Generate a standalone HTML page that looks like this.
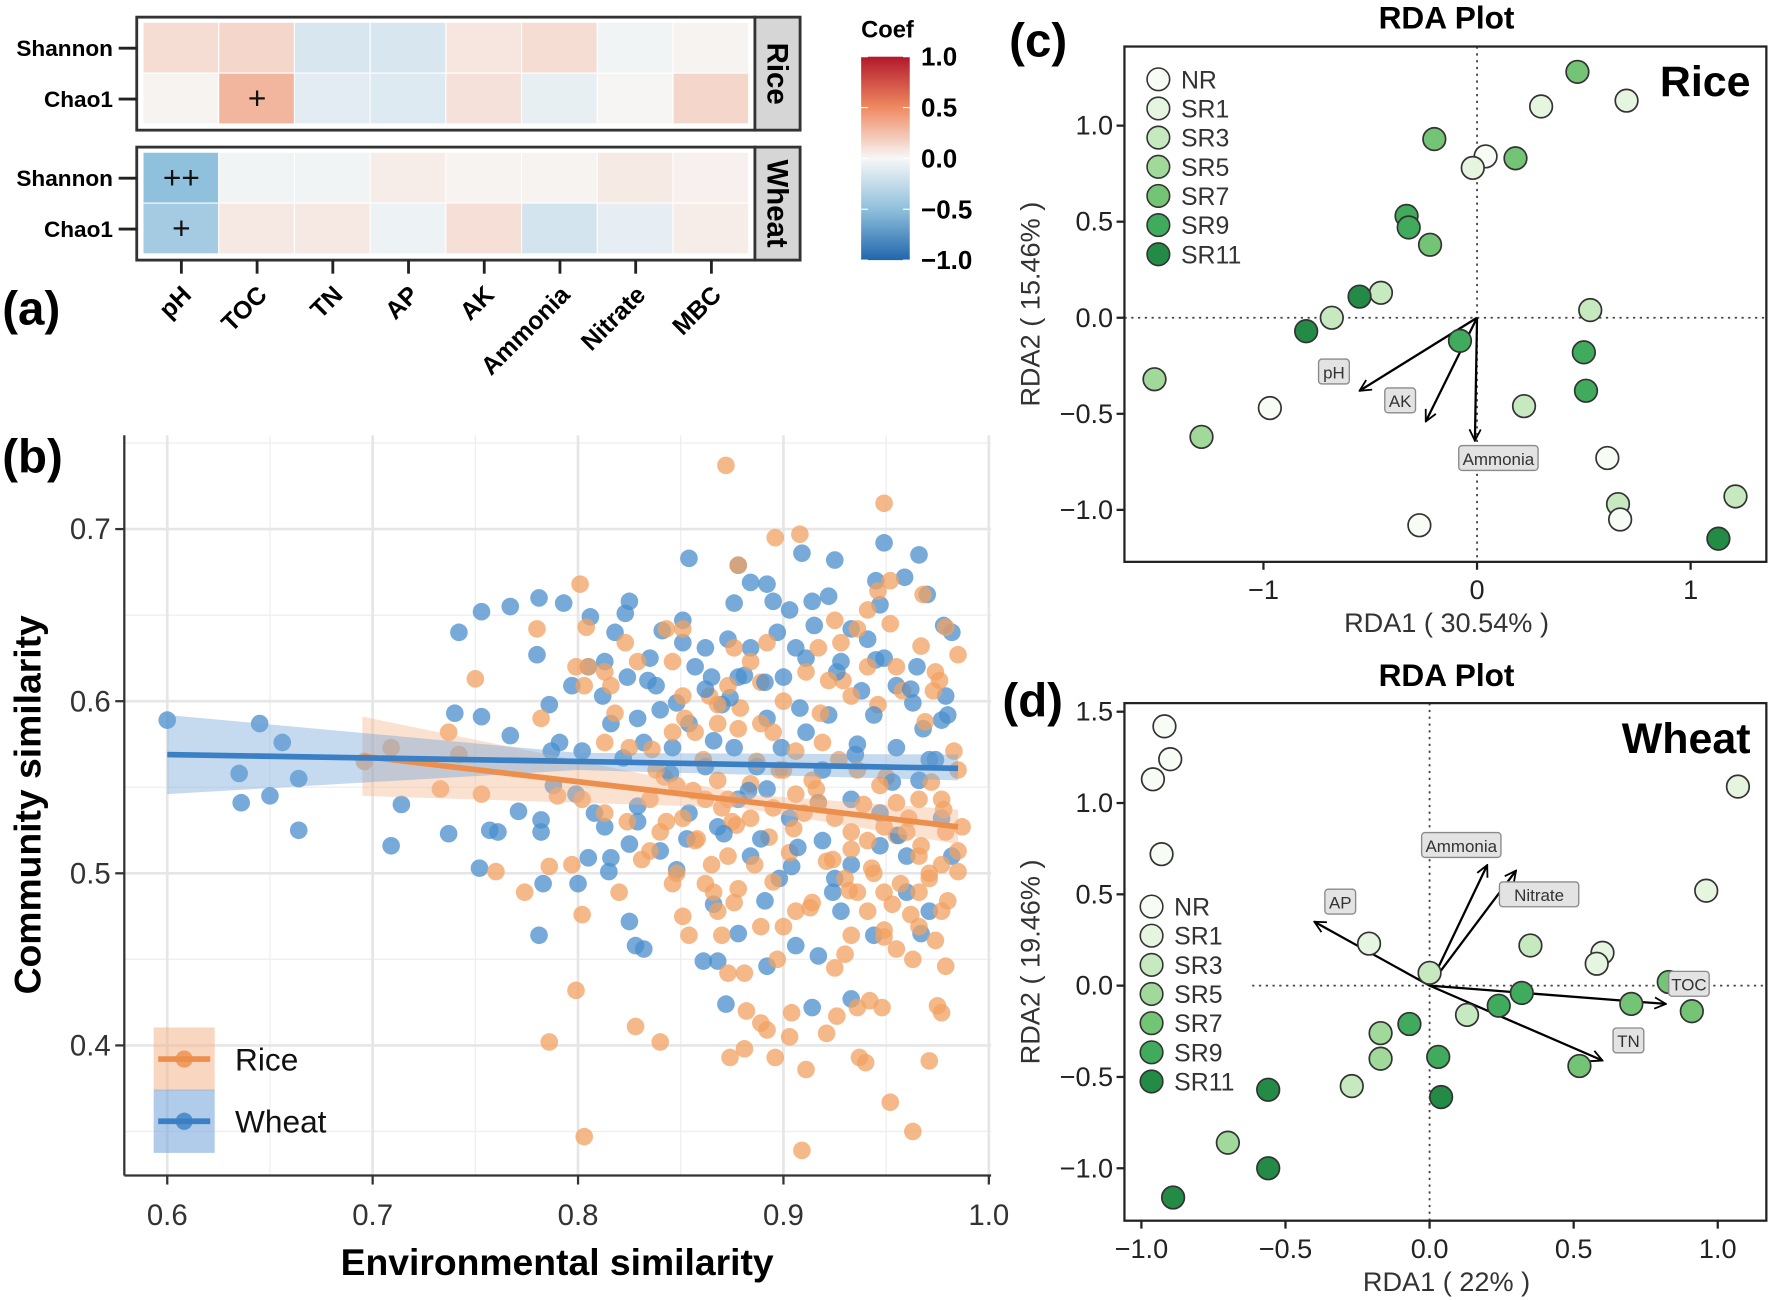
<!DOCTYPE html>
<html><head><meta charset="utf-8">
<style>
html,body{margin:0;padding:0;background:#fff;}
svg{display:block;font-family:"Liberation Sans",Arial,sans-serif;}
</style></head>
<body>
<svg id="fig" width="1772" height="1300" viewBox="0 0 1568 1150" xmlns="http://www.w3.org/2000/svg">
<defs>
<linearGradient id="cbar" x1="0" y1="0" x2="0" y2="1">
<stop offset="0" stop-color="#b2182b"/><stop offset="0.25" stop-color="#ef8a62"/><stop offset="0.5" stop-color="#f7f7f7"/><stop offset="0.75" stop-color="#8fc0dc"/><stop offset="1" stop-color="#2166ac"/>
</linearGradient>
<marker id="arr" viewBox="0 0 12 12" refX="11" refY="6" markerWidth="12" markerHeight="12" markerUnits="userSpaceOnUse" orient="auto"><path d="M1,1 L11,6 L1,11" fill="none" stroke="#000" stroke-width="1.6"/></marker>
</defs>
<g id="pa"></g>
<g id="pb"></g>
<g id="pc"></g>
<g id="pd"></g>
</svg>
<script>
// ---------- Heatmap data ----------
const hmVars = ["pH","TOC","TN","AP","AK","Ammonia","Nitrate","MBC"];
const hmRows = ["Shannon","Chao1"];
const riceShannon = [0.12,0.15,-0.15,-0.15,0.08,0.12,-0.03,0.02];
const riceChao1 = [0.02,0.3,-0.1,-0.12,0.1,-0.07,0.01,0.15];
const wheatShannon = [-0.5,-0.03,-0.03,0.05,0.02,0.02,0.06,0.03];
const wheatChao1 = [-0.4,0.07,0.07,-0.05,0.11,-0.17,-0.08,0.05];
const riceSigS = ["","","","","","","",""];
const riceSigC = ["","+","","","","","",""];
const wheatSigS = ["++","","","","","","",""];
const wheatSigC = ["+","","","","","","",""];
const cbTicks = [1.0,0.5,0.0,-0.5,-1.0];

// ---------- Scatter data ----------
const wheatX = [0.600,0.645,0.656,0.635,0.664,0.636,0.650,0.664,0.709,0.714,0.740,0.753,0.767,0.742,0.753,0.767,0.781,0.793,0.780,0.806,0.825,0.823,0.854,0.878,0.909,0.925,0.949,0.966,0.959,0.945,0.947,0.970,0.978,0.982,0.949,0.963,0.977,0.737,0.752,0.757,0.761,0.771,0.782,0.782,0.783,0.800,0.781,0.805,0.815,0.816,0.825,0.828,0.832,0.848,0.861,0.868,0.866,0.872,0.878,0.892,0.914,0.917,0.933,0.944,0.967,0.924,0.904,0.884,0.891,0.825,0.840,0.829,0.813,0.799,0.788,0.787,0.802,0.786,0.797,0.805,0.813,0.824,0.835,0.838,0.848,0.854,0.840,0.829,0.832,0.846,0.862,0.854,0.868,0.878,0.887,0.892,0.900,0.911,0.906,0.903,0.914,0.922,0.933,0.941,0.928,0.938,0.922,0.911,0.919,0.933,0.947,0.955,0.966,0.977,0.982,0.960,0.947,0.933,0.919,0.903,0.892,0.876,0.870,0.878,0.884,0.873,0.862,0.851,0.851,0.876,0.884,0.892,0.895,0.865,0.816,0.808,0.791,0.968,0.955,0.979,0.928,0.906,0.898,0.960,0.971];
const wheatY = [0.589,0.587,0.576,0.558,0.555,0.541,0.545,0.525,0.516,0.540,0.593,0.591,0.580,0.640,0.652,0.655,0.660,0.657,0.627,0.649,0.658,0.651,0.683,0.679,0.686,0.682,0.692,0.685,0.672,0.670,0.656,0.662,0.644,0.640,0.625,0.599,0.589,0.523,0.503,0.525,0.524,0.536,0.531,0.524,0.494,0.494,0.464,0.509,0.501,0.509,0.472,0.458,0.456,0.502,0.449,0.449,0.482,0.424,0.465,0.446,0.422,0.452,0.427,0.464,0.465,0.489,0.504,0.510,0.484,0.517,0.513,0.539,0.527,0.546,0.551,0.571,0.571,0.598,0.609,0.620,0.623,0.614,0.625,0.609,0.599,0.587,0.595,0.590,0.576,0.573,0.562,0.535,0.527,0.543,0.562,0.590,0.614,0.625,0.631,0.653,0.658,0.661,0.642,0.636,0.623,0.606,0.592,0.582,0.560,0.543,0.535,0.573,0.554,0.532,0.510,0.510,0.516,0.505,0.519,0.532,0.549,0.573,0.598,0.614,0.631,0.636,0.631,0.634,0.647,0.657,0.669,0.668,0.658,0.614,0.587,0.535,0.576,0.584,0.609,0.603,0.478,0.458,0.497,0.489,0.478];
const wheatX2 = [0.812,0.822,0.834,0.845,0.857,0.866,0.874,0.883,0.891,0.899,0.908,0.917,0.926,0.935,0.944,0.953,0.962,0.971,0.818,0.829,0.841,0.853,0.862,0.871,0.881,0.889,0.897,0.907,0.915,0.925,0.936,0.945,0.956,0.965,0.974,0.980];
const wheatY2 = [0.603,0.567,0.612,0.558,0.620,0.577,0.602,0.548,0.611,0.573,0.596,0.541,0.617,0.569,0.592,0.553,0.607,0.566,0.640,0.530,0.641,0.520,0.607,0.523,0.615,0.520,0.640,0.515,0.644,0.497,0.575,0.624,0.522,0.620,0.566,0.592];
const riceX = [0.872,0.949,0.896,0.908,0.878,0.801,0.780,0.804,0.750,0.946,0.952,0.968,0.979,0.985,0.967,0.974,0.973,0.955,0.952,0.941,0.936,0.925,0.917,0.911,0.922,0.933,0.941,0.928,0.892,0.876,0.884,0.873,0.868,0.851,0.843,0.851,0.846,0.829,0.823,0.813,0.805,0.799,0.803,0.816,0.782,0.737,0.742,0.696,0.709,0.733,0.753,0.790,0.802,0.813,0.818,0.813,0.825,0.838,0.848,0.857,0.868,0.878,0.889,0.895,0.906,0.919,0.936,0.947,0.955,0.966,0.977,0.985,0.987,0.979,0.985,0.977,0.985,0.966,0.960,0.949,0.941,0.933,0.925,0.917,0.906,0.895,0.884,0.873,0.868,0.862,0.851,0.840,0.835,0.843,0.857,0.865,0.873,0.878,0.862,0.868,0.889,0.900,0.906,0.914,0.930,0.936,0.941,0.949,0.957,0.966,0.971,0.977,0.974,0.966,0.955,0.963,0.979,0.949,0.933,0.930,0.925,0.897,0.881,0.873,0.851,0.854,0.870,0.876,0.846,0.831,0.820,0.802,0.797,0.786,0.774,0.760,0.799,0.786,0.828,0.840,0.881,0.874,0.896,0.911,0.903,0.892,0.889,0.882,0.904,0.921,0.926,0.936,0.942,0.948,0.937,0.940,0.971,0.975,0.977,0.952,0.963,0.909,0.803,0.949,0.887,0.900,0.914,0.846,0.835,0.824];
const riceY = [0.737,0.715,0.695,0.697,0.679,0.668,0.642,0.643,0.613,0.664,0.670,0.662,0.643,0.627,0.632,0.617,0.606,0.620,0.645,0.653,0.642,0.647,0.631,0.617,0.612,0.603,0.620,0.634,0.634,0.631,0.623,0.609,0.598,0.603,0.642,0.642,0.623,0.623,0.634,0.617,0.620,0.620,0.609,0.609,0.590,0.582,0.569,0.565,0.573,0.549,0.546,0.545,0.543,0.535,0.593,0.576,0.573,0.560,0.551,0.582,0.587,0.584,0.587,0.582,0.571,0.576,0.560,0.551,0.541,0.543,0.543,0.560,0.527,0.524,0.513,0.505,0.501,0.510,0.524,0.527,0.519,0.524,0.532,0.541,0.546,0.538,0.532,0.543,0.554,0.543,0.532,0.524,0.513,0.530,0.519,0.505,0.510,0.491,0.494,0.478,0.469,0.469,0.478,0.483,0.497,0.489,0.478,0.489,0.494,0.489,0.497,0.478,0.461,0.469,0.456,0.450,0.446,0.467,0.464,0.453,0.445,0.450,0.442,0.442,0.475,0.464,0.464,0.483,0.494,0.508,0.489,0.476,0.505,0.504,0.489,0.501,0.432,0.402,0.411,0.402,0.398,0.393,0.393,0.386,0.405,0.409,0.413,0.420,0.419,0.407,0.417,0.422,0.426,0.422,0.393,0.390,0.391,0.423,0.419,0.367,0.350,0.339,0.347,0.463,0.565,0.560,0.554,0.582,0.543,0.530];
const riceX2 = [0.842,0.856,0.861,0.870,0.877,0.884,0.893,0.898,0.903,0.910,0.916,0.921,0.927,0.933,0.939,0.944,0.950,0.955,0.961,0.967,0.972,0.978,0.983,0.848,0.858,0.866,0.875,0.886,0.895,0.905,0.913,0.924,0.932,0.943,0.953,0.962,0.971,0.980,0.836,0.852,0.864,0.879,0.889,0.900,0.918,0.929,0.946,0.958,0.969,0.976];
const riceY2 = [0.556,0.548,0.566,0.538,0.528,0.552,0.521,0.560,0.512,0.535,0.549,0.507,0.566,0.514,0.540,0.500,0.556,0.522,0.532,0.516,0.553,0.537,0.571,0.500,0.520,0.489,0.530,0.505,0.495,0.526,0.480,0.508,0.490,0.503,0.482,0.476,0.500,0.484,0.572,0.590,0.603,0.596,0.611,0.600,0.593,0.612,0.598,0.606,0.588,0.612];
const wheatFitX = [0.600,0.800,0.985];
const wheatFit = [0.569,0.565,0.561];
const wheatLo = [0.546,0.560,0.554];
const wheatHi = [0.592,0.570,0.569];
const riceFitX = [0.695,0.880,0.985];
const riceFit = [0.568,0.542,0.527];
const riceLo = [0.545,0.538,0.517];
const riceHi = [0.591,0.546,0.537];
const bXTicks = [0.6,0.7,0.8,0.9,1.0];
const bYTicks = [0.4,0.5,0.6,0.7];

// ---------- RDA data ----------
const groups = ["NR","SR1","SR3","SR5","SR7","SR9","SR11"];
const groupColors = ["#f7fcf5","#e5f5e0","#c7e9c0","#a1d99b","#74c476","#41ab5d","#238b45"];
const riceRdaX = [0.47,0.70,0.30,-0.20,0.04,-0.02,0.18,-0.33,-0.32,-0.22,-0.45,-0.55,-0.68,-0.80,0.53,-0.08,0.50,0.51,-1.51,-0.97,-1.29,0.22,0.61,0.66,0.67,-0.27,1.21,1.13];
const riceRdaY = [1.28,1.13,1.10,0.93,0.84,0.78,0.83,0.53,0.47,0.38,0.13,0.11,0.0,-0.07,0.04,-0.12,-0.18,-0.38,-0.32,-0.47,-0.62,-0.46,-0.73,-0.97,-1.05,-1.08,-0.93,-1.15];
const riceRdaG = [4,1,1,4,0,1,4,5,5,4,2,6,2,6,2,5,5,5,3,0,3,2,0,2,0,0,2,6];
const riceArrowNames = ["pH","AK","Ammonia"];
const riceArrowX = [-0.55,-0.24,-0.01];
const riceArrowY = [-0.38,-0.54,-0.64];
const riceLabelX = [-0.67,-0.36,0.10];
const riceLabelY = [-0.28,-0.43,-0.73];
const wheatRdaX = [-0.92,-0.90,-0.96,-0.93,1.07,0.96,-0.21,0.35,0.60,0.58,0.00,0.83,0.32,0.24,0.70,0.91,0.13,-0.07,-0.17,-0.17,0.03,0.52,-0.27,-0.56,0.04,-0.70,-0.56,-0.89];
const wheatRdaY = [1.42,1.24,1.13,0.72,1.09,0.52,0.23,0.22,0.18,0.12,0.07,0.02,-0.04,-0.11,-0.10,-0.14,-0.16,-0.21,-0.26,-0.40,-0.39,-0.44,-0.55,-0.57,-0.61,-0.86,-1.00,-1.16];
const wheatRdaG = [0,0,0,0,1,1,1,2,1,1,2,4,5,5,4,4,2,5,3,3,5,4,2,6,6,3,6,6];
const wheatArrowNames = ["AP","Ammonia","Nitrate","TOC","TN"];
const wheatArrowX = [-0.40,0.20,0.30,0.82,0.60];
const wheatArrowY = [0.35,0.66,0.63,-0.10,-0.41];
const wheatLabelX = [-0.31,0.11,0.38,0.90,0.69];
const wheatLabelY = [0.46,0.77,0.50,0.01,-0.30];
const cXTicks = [-1,0,1];
const cYTicks = [1.0,0.5,0.0,-0.5,-1.0];
const dXTicks = [-1.0,-0.5,0.0,0.5,1.0];
const dYTicks = [1.5,1.0,0.5,0.0,-0.5,-1.0];

const NS="http://www.w3.org/2000/svg";
function mk(parent, tag, attrs, text){
  const e=document.createElementNS(NS,tag);
  for(const k in attrs) e.setAttribute(k,attrs[k]);
  if(text!==undefined) e.textContent=text;
  parent.appendChild(e); return e;
}
function fmt(v,d){const s=v.toFixed(d);return v<0?"\u2212"+s.slice(1):s;}

// ---------- Panel A ----------
(function(){
  const g=document.getElementById('pa');
  function lerp(a,b,t){return a.map((v,i)=>Math.round(v+(b[i]-v)*t));}
  const stops=[[-1,[33,102,172]],[-0.5,[143,192,220]],[0,[247,247,247]],[0.5,[239,138,98]],[1,[178,24,43]]];
  function col(v){for(let i=0;i<4;i++){if(v<=stops[i+1][0]){const t=(v-stops[i][0])/(stops[i+1][0]-stops[i][0]);const c=lerp(stops[i][1],stops[i+1][1],t);return `rgb(${c})`;}}return 'rgb(178,24,43)';}
  const cx0=127,cw=67,rh=45;
  const panels=[{name:"Rice",top:15,rows:[riceShannon,riceChao1],sig:[riceSigS,riceSigC]},{name:"Wheat",top:130,rows:[wheatShannon,wheatChao1],sig:[wheatSigS,wheatSigC]}];
  panels.forEach(p=>{
    const box=mk(g,'rect',{x:121,y:p.top,width:547,height:100,fill:'#fff',stroke:'#333','stroke-width':2.5});
    
    
    p.rows.forEach((vals,r)=>{
      vals.forEach((v,c)=>{
        const cell=mk(g,'rect',{x:cx0+c*cw,y:p.top+5+r*rh,width:cw-1,height:rh-1,fill:col(v)});
        
        
        const s=p.sig[r][c];
        if(s){const t=mk(g,'text',{x:cx0+c*cw+cw/2,y:p.top+5+r*rh+rh/2+9,'text-anchor':'middle','font-size':28,fill:'#111'},s);
          
          }
      });
      const ly=p.top+5+r*rh+rh/2;
      const lab=mk(g,'text',{x:100,y:ly+7,'text-anchor':'end','font-size':20,'font-weight':'bold'},hmRows[r]);
      
      
      mk(g,'line',{x1:105,x2:121,y1:ly,y2:ly,stroke:'#222','stroke-width':2.5});
    });
    const strip=mk(g,'rect',{x:668,y:p.top,width:40,height:100,fill:'#d6d6d6',stroke:'#333','stroke-width':2.5});
    
    
    const st=mk(g,'text',{x:688,y:p.top+50,'text-anchor':'middle','font-size':26,'font-weight':'bold',transform:`rotate(90 688 ${p.top+50}) translate(0 9)`},p.name);
    
    
  });
  hmVars.forEach((v,c)=>{
    const x=cx0+c*cw+cw/2;
    mk(g,'line',{x1:x,x2:x,y1:230,y2:242,stroke:'#222','stroke-width':2.5});
    const t=mk(g,'text',{x:x+10,y:262,'text-anchor':'end','font-size':22,'font-weight':'bold',transform:`rotate(-45 ${x+10} 262)`},v);
    
    
  });
  const al=mk(g,'text',{x:2,y:287,'font-size':42,'font-weight':'bold'},'(a)');
  
  
  const ct=mk(g,'text',{x:762,y:33,'font-size':21,'font-weight':'bold'},'Coef');
  
  
  const cb=mk(g,'rect',{x:762,y:50,width:43,height:180,fill:'url(#cbar)'});
  
  
  cbTicks.forEach(v=>{
    const y=50+(1-v)/2*180;
    mk(g,'line',{x1:762,x2:768,y1:y,y2:y,stroke:'#fff','stroke-width':1});
    mk(g,'line',{x1:799,x2:805,y1:y,y2:y,stroke:'#fff','stroke-width':1});
    const t=mk(g,'text',{x:815,y:y+8,'font-size':23,'font-weight':'bold'},fmt(v,1));
    
    
  });
})();

// ---------- Panel B ----------
(function(){
  const g=document.getElementById('pb');
  const L=110,R=877,T=385,B=1040;
  const sx=v=>148+(v-0.6)*1817.5, sy=v=>468-(v-0.7)*1523;
  [0.65,0.75,0.85,0.95].forEach(v=>mk(g,'line',{x1:sx(v),x2:sx(v),y1:T,y2:B,stroke:'#efefef','stroke-width':1.2}));
  [0.35,0.45,0.55,0.65,0.75].forEach(v=>{if(sy(v)>T)mk(g,'line',{x1:L,x2:R,y1:sy(v),y2:sy(v),stroke:'#efefef','stroke-width':1.2});});
  bXTicks.forEach(v=>mk(g,'line',{x1:sx(v),x2:sx(v),y1:T,y2:B,stroke:'#e6e6e6','stroke-width':2.4}));
  bYTicks.forEach(v=>mk(g,'line',{x1:L,x2:R,y1:sy(v),y2:sy(v),stroke:'#e6e6e6','stroke-width':2.4}));
  function pts(X,Y,c,name){X.forEach((x,i)=>{const p=mk(g,'circle',{cx:sx(x),cy:sy(Y[i]),r:7.8,fill:c,'fill-opacity':0.75});
    
    });}
  pts(wheatX,wheatY,'#4a8dcc','wheat-point');
  pts(riceX2,riceY2,'#f2a162','rice-point');
  pts(wheatX2,wheatY2,'#4a8dcc','wheat-point');
  pts(riceX,riceY,'#f2a162','rice-point');
  function band(FX,LO,HI,fill,name){
    let d='M'+FX.map((x,i)=>sx(x)+','+sy(HI[i])).join(' L')+' L'+FX.slice().reverse().map((x,i)=>sx(x)+','+sy(LO[LO.length-1-i])).join(' L')+'Z';
    const p=mk(g,'path',{d:d,fill:fill,'fill-opacity':0.4});
    
    
  }
  function line(FX,F,c,name){
    const p=mk(g,'polyline',{points:FX.map((x,i)=>sx(x)+','+sy(F[i])).join(' '),fill:'none',stroke:c,'stroke-width':5});
    
    
  }
  band(riceFitX,riceLo,riceHi,'#f4b58a','rice-confidence-band');
  band(wheatFitX,wheatLo,wheatHi,'#6fa3d8','wheat-confidence-band');
  line(riceFitX,riceFit,'#ec8e4c','rice-fit-line');
  line(wheatFitX,wheatFit,'#3b7fc4','wheat-fit-line');
  mk(g,'line',{x1:L,x2:L,y1:T,y2:B,stroke:'#333','stroke-width':2});
  mk(g,'line',{x1:L,x2:R,y1:B,y2:B,stroke:'#333','stroke-width':2});
  bXTicks.forEach(v=>{mk(g,'line',{x1:sx(v),x2:sx(v),y1:B,y2:B+8,stroke:'#333','stroke-width':2});
    const t=mk(g,'text',{x:sx(v),y:B+44,'text-anchor':'middle','font-size':26,fill:'#333'},v.toFixed(1));
    
    });
  bYTicks.forEach(v=>{mk(g,'line',{x1:L-8,x2:L,y1:sy(v),y2:sy(v),stroke:'#333','stroke-width':2});
    const t=mk(g,'text',{x:L-12,y:sy(v)+9,'text-anchor':'end','font-size':26,fill:'#333'},v.toFixed(1));
    
    });
  const xt=mk(g,'text',{x:493,y:1128,'text-anchor':'middle','font-size':33,'font-weight':'bold'},'Environmental similarity');
  
  
  const yt=mk(g,'text',{x:0,y:0,'text-anchor':'middle','font-size':33,'font-weight':'bold',transform:'translate(36 712) rotate(-90)'},'Community similarity');
  
  
  const bl=mk(g,'text',{x:2,y:418,'font-size':42,'font-weight':'bold'},'(b)');
  
  
  [['Rice','#f4b58a','#ec8e4c',937],['Wheat','#6fa3d8','#3b7fc4',992]].forEach(e=>{
    const r=mk(g,'rect',{x:136,y:e[3]-28,width:54,height:56,fill:e[1],'fill-opacity':0.55});
    
    
    mk(g,'line',{x1:140,x2:186,y1:e[3],y2:e[3],stroke:e[2],'stroke-width':5});
    mk(g,'circle',{cx:163,cy:e[3],r:7.6,fill:e[2],'fill-opacity':0.8});
    const t=mk(g,'text',{x:208,y:e[3]+10,'font-size':28,fill:'#111'},e[0]);
    
    
  });
})();

// ---------- RDA panels ----------
function rda(gid,cfg){
  const g=document.getElementById(gid);
  const {L,R,T,B,x0,xs,y0,ys}=cfg;
  const sx=v=>x0+v*xs, sy=v=>y0-v*ys;
  mk(g,'line',{x1:sx(0),x2:sx(0),y1:T,y2:B,stroke:'#444','stroke-width':1.6,'stroke-dasharray':'2 4'});
  mk(g,'line',{x1:cfg.hx0,x2:R,y1:sy(0),y2:sy(0),stroke:'#444','stroke-width':1.6,'stroke-dasharray':'2 4'});
  const fr=mk(g,'rect',{x:L,y:T,width:R-L,height:B-T,fill:'none',stroke:'#222','stroke-width':2});
  
  
  cfg.AX.forEach((ax,i)=>{
    const a=mk(g,'line',{x1:sx(0),y1:sy(0),x2:sx(ax),y2:sy(cfg.AY[i]),stroke:'#000','stroke-width':2,'marker-end':'url(#arr)'});
    
    
  });
  cfg.PX.forEach((px,i)=>{
    const c=mk(g,'circle',{cx:sx(px),cy:sy(cfg.PY[i]),r:10,fill:groupColors[cfg.PG[i]],stroke:'#333','stroke-width':1.5});
    
    
  });
  cfg.AN.forEach((n,i)=>{
    const w=n.length*8.6+10, cx=sx(cfg.LX[i]), cy=sy(cfg.LY[i]);
    const b=mk(g,'rect',{x:cx-w/2,y:cy-11,width:w,height:22,rx:3,fill:'#e3e3e3',stroke:'#8a8a8a','stroke-width':1.2});
    
    
    const t=mk(g,'text',{x:cx,y:cy+6,'text-anchor':'middle','font-size':15,fill:'#333'},n);
    
    
  });
  cfg.XT.forEach(v=>{mk(g,'line',{x1:sx(v),x2:sx(v),y1:B,y2:B+7,stroke:'#222','stroke-width':2});
    const t=mk(g,'text',{x:sx(v),y:B+33,'text-anchor':'middle','font-size':24,fill:'#222'},fmt(v,cfg.xd));
    
    });
  cfg.YT.forEach(v=>{mk(g,'line',{x1:L-7,x2:L,y1:sy(v),y2:sy(v),stroke:'#222','stroke-width':2});
    const t=mk(g,'text',{x:L-10,y:sy(v)+8,'text-anchor':'end','font-size':24,fill:'#222'},fmt(v,1));
    
    });
  groups.forEach((gname,i)=>{
    const y=cfg.legY+i*25.8;
    const c=mk(g,'circle',{cx:cfg.legX,cy:y,r:10,fill:groupColors[i],stroke:'#333','stroke-width':1.4});
    
    
    const t=mk(g,'text',{x:cfg.legX+20,y:y+8,'font-size':22,fill:'#333'},gname);
    
    
  });
  const ti=mk(g,'text',{x:1280,y:T-cfg.titleOff,'text-anchor':'middle','font-size':28,'font-weight':'bold'},'RDA Plot');
  
  
  const pl=mk(g,'text',{x:cfg.plx,y:cfg.ply,'font-size':42,'font-weight':'bold'},cfg.pl);
  
  
  const cr=mk(g,'text',{x:R-14,y:T+44,'text-anchor':'end','font-size':38,'font-weight':'bold'},cfg.crop);
  
  
  const xt=mk(g,'text',{x:1280,y:B+62,'text-anchor':'middle','font-size':24,fill:'#333'},cfg.xlab);
  
  
  const ym=(T+B)/2;
  const yt=mk(g,'text',{x:0,y:0,'text-anchor':'middle','font-size':24,fill:'#333',transform:`translate(920 ${ym}) rotate(-90)`},cfg.ylab);
  
  
}
rda('pc',{L:995,R:1563,T:41,B:497,x0:1307,xs:189,y0:281,ys:170,hx0:995,
  PX:riceRdaX,PY:riceRdaY,PG:riceRdaG,AX:riceArrowX,AY:riceArrowY,AN:riceArrowNames,LX:riceLabelX,LY:riceLabelY,
  XT:cXTicks,YT:cYTicks,xd:0,legX:1025,legY:70,titleOff:16,plx:893,ply:50,pl:'(c)',crop:'Rice',
  xlab:'RDA1 ( 30.54% )',ylab:'RDA2 ( 15.46% )'});
rda('pd',{L:995,R:1563,T:622,B:1080,x0:1265,xs:255,y0:872,ys:161.6,hx0:1108,
  PX:wheatRdaX,PY:wheatRdaY,PG:wheatRdaG,AX:wheatArrowX,AY:wheatArrowY,AN:wheatArrowNames,LX:wheatLabelX,LY:wheatLabelY,
  XT:dXTicks,YT:dYTicks,xd:1,legX:1019,legY:802,titleOff:15,plx:887,ply:634,pl:'(d)',crop:'Wheat',
  xlab:'RDA1 ( 22% )',ylab:'RDA2 ( 19.46% )'});
</script>
</body></html>
